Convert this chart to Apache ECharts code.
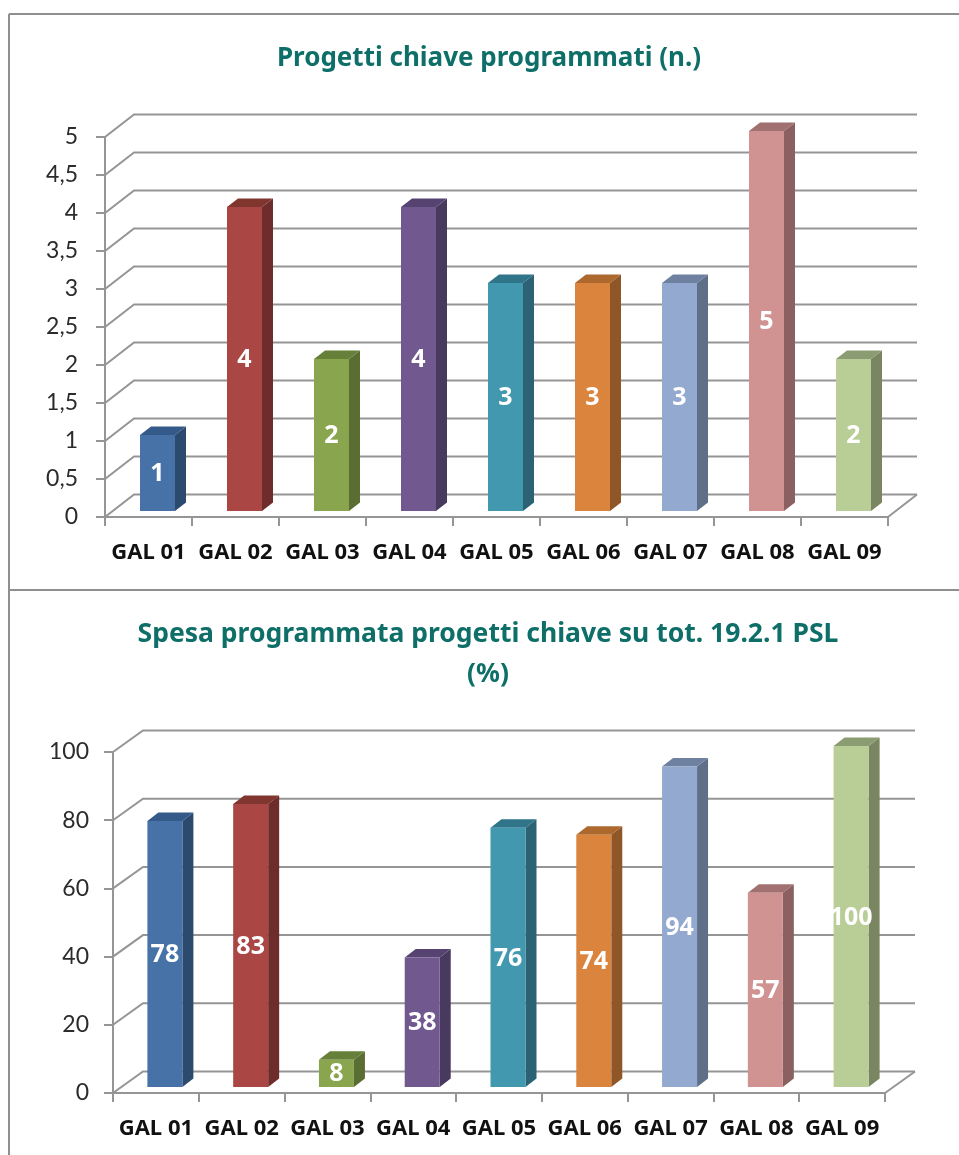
<!DOCTYPE html>
<html><head><meta charset="utf-8">
<style>html,body{margin:0;padding:0;background:#fff}#c{width:959px;height:1155px}</style>
<script src="https://cdn.jsdelivr.net/npm/echarts@6/dist/echarts.min.js"></script>
</head><body><div id="c"></div>
<script>
const categories = ['GAL 01','GAL 02','GAL 03','GAL 04','GAL 05','GAL 06','GAL 07','GAL 08','GAL 09'];
const progetti = [1,4,2,4,3,3,3,5,2];
const spesa = [78,83,8,38,76,74,94,57,100];
const ticksTop = [0,0.5,1,1.5,2,2.5,3,3.5,4,4.5,5];
const ticksBottom = [0,20,40,60,80,100];
const frontColors = ['#4672A8','#AA4643','#89A54E','#71588F','#4198AF','#DB843D','#93A9CF','#D19392','#B9CD96'];
const sideColors  = ['#2C4A6E','#6E2C2A','#5A6E33','#483A5E','#2B6374','#8F5627','#606F88','#8A6160','#7A8562'];
const topColors   = ['#335A88','#80352F','#66803A','#564371','#2F7488','#AD682E','#6F81A1','#A07170','#8C9C72'];
const GRAY = '#959595', TEAL = '#0E6E68';

function wall(depth){
  return function(params, api){
    const band = api.size([1,0])[0];
    const p = api.coord([0, api.value(1)]);
    const x0 = p[0]-band/2, x1 = api.coord([8,0])[0]+band/2, y = p[1];
    const children = [{type:'polyline',shape:{points:[[x0,y],[x0+depth[0],y-depth[1]],[x1+depth[0],y-depth[1]]]},
      style:{stroke:GRAY,lineWidth:2,fill:null}}];
    if(api.value(1)===0) children.push({type:'line',shape:{x1:x1,y1:y,x2:x1+depth[0],y2:y-depth[1]},style:{stroke:GRAY,lineWidth:2}});
    return {type:'group',children};
  };
}
function bar3d(g){
  return function(params, api){
    const i = api.value(0), v = api.value(1);
    const c = api.coord([i,v]), b = api.coord([i,0]);
    const l = c[0]-g.w/2+g.ox, r = l+g.w, t = c[1]-g.oy, bot = b[1]-g.oy;
    const dx=g.dx, dy=g.dy;
    return {type:'group',children:[
      {type:'polygon',shape:{points:[[r,t],[r+dx,t-dy],[r+dx,bot-dy],[r,bot]]},style:{fill:sideColors[i]}},
      {type:'polygon',shape:{points:[[l,t],[l+dx,t-dy],[r+dx,t-dy],[r,t]]},style:{fill:topColors[i]}},
      {type:'rect',shape:{x:l,y:t,width:g.w,height:bot-t},style:{fill:frontColors[i]}},
      {type:'text',style:{text:String(v),x:(l+r)/2,y:(t+bot)/2+1,align:'center',verticalAlign:'middle',
        fill:'#fff',font:'bold 25px "Noto Sans"'}}
    ]};
  };
}
const yAxisBase = {type:'value',min:0,
  axisLine:{show:true,lineStyle:{color:GRAY,width:2}},
  axisTick:{show:true,length:9,lineStyle:{color:GRAY,width:2}},
  splitLine:{show:false},
  axisLabel:{color:'#2b2b2b',fontFamily:'Lato',fontSize:23,
    formatter:v=>String(v).replace('.',',')}};
const xAxisBase = {type:'category',data:categories,
  axisLine:{show:true,onZero:false,lineStyle:{color:GRAY,width:2}},
  axisTick:{show:true,length:9,alignWithLabel:false,lineStyle:{color:GRAY,width:2}},
  axisLabel:{color:'#111',fontFamily:'Noto Sans',fontWeight:'bold',fontSize:22,margin:25,interval:0}};
const geomTop = {w:35,ox:9,oy:6,dx:11,dy:8.5};
const geomBottom = {w:35,ox:9,oy:6,dx:11,dy:8.5};
const mergeAxis = (base, extra) => Object.assign({}, base, extra, {axisLabel:Object.assign({}, base.axisLabel, extra.axisLabel||{})});
const option = {
  animation:false,backgroundColor:'#fff',
  title:[
    {text:'Progetti chiave programmati (n.)',left:484,top:41,textAlign:'center',
      textStyle:{color:TEAL,fontFamily:'Noto Sans',fontWeight:'bold',fontSize:26}},
    {text:'Spesa programmata progetti chiave su tot. 19.2.1 PSL\n(%)',left:483,top:609,textAlign:'center',
      textStyle:{color:TEAL,fontFamily:'Noto Sans',fontWeight:'bold',fontSize:26.5,lineHeight:40}}
  ],
  grid:[
    {left:105,width:783,top:137,height:380},
    {left:113,width:772,top:752,height:341}
  ],
  xAxis:[Object.assign({gridIndex:0},xAxisBase),Object.assign({gridIndex:1},xAxisBase)],
  yAxis:[
    mergeAxis(yAxisBase,{gridIndex:0,max:5,interval:0.5,axisLabel:{margin:27,padding:[4,0,0,0]}}),
    mergeAxis(yAxisBase,{gridIndex:1,max:100,interval:20,axisLabel:{margin:24,padding:[2,0,0,0]}})
  ],
  series:[
    {type:'custom',xAxisIndex:0,yAxisIndex:0,renderItem:wall([29,22.5]),data:ticksTop.map(v=>[0,v]),silent:true,z:1},
    {type:'custom',xAxisIndex:1,yAxisIndex:1,renderItem:wall([30,21.5]),data:ticksBottom.map(v=>[0,v]),silent:true,z:1},
    {type:'custom',xAxisIndex:0,yAxisIndex:0,renderItem:bar3d(geomTop),data:progetti.map((v,i)=>[i,v]),z:3},
    {type:'custom',xAxisIndex:1,yAxisIndex:1,renderItem:bar3d(geomBottom),data:spesa.map((v,i)=>[i,v]),z:3}
  ],
  graphic:[
    {type:'line',shape:{x1:9,y1:14,x2:959,y2:14},style:{stroke:'#8f8f8f',lineWidth:2},silent:true},
    {type:'line',shape:{x1:9,y1:14,x2:9,y2:1155},style:{stroke:'#8f8f8f',lineWidth:2},silent:true},
    {type:'line',shape:{x1:9,y1:590,x2:959,y2:590},style:{stroke:'#8f8f8f',lineWidth:2},silent:true}
  ]
};
echarts.init(document.getElementById('c')).setOption(option);
</script></body></html>
